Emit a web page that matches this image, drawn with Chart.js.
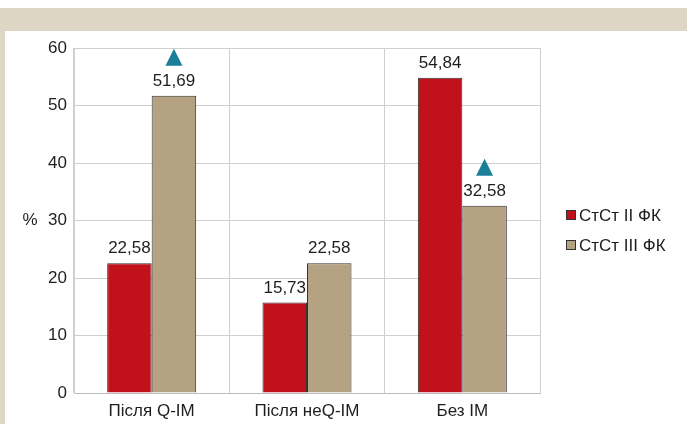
<!DOCTYPE html>
<html>
<head>
<meta charset="utf-8">
<script src="https://cdn.jsdelivr.net/npm/chart.js@4/dist/chart.umd.min.js"></script>
<style>
  html, body { margin: 0; padding: 0; background: #ffffff; }
  #wrap { position: relative; width: 687px; height: 424px; }
  canvas { display: block; }
</style>
</head>
<body>
<div id="wrap"><canvas id="c" width="687" height="424"></canvas></div>
<script>
const categories = ['Після Q-IM', 'Після неQ-IM', 'Без IM'];
const seriesNames = ['СтСт II ФК', 'СтСт III ФК'];
const seriesII = [22.58, 15.73, 54.84];
const seriesIII = [51.69, 22.58, 32.58];
const markedIII = [true, false, true];
const yTicks = [0, 10, 20, 30, 40, 50, 60];

const FONT = '"Liberation Sans", Arial, Helvetica, sans-serif';
const FS = 17;
const colors = ['#c1121c', '#b5a283'];

const decorPlugin = {
  id: 'decor',
  beforeDraw(chart) {
    const ctx = chart.ctx;
    ctx.save();
    ctx.fillStyle = '#ffffff';
    ctx.fillRect(0, 0, chart.width, chart.height);
    ctx.fillStyle = '#ded6c4';
    ctx.fillRect(0, 8, chart.width, 23);
    ctx.fillRect(0, 31, 5, chart.height - 31);
    ctx.restore();
  },
  afterDatasetsDraw(chart) {
    const ctx = chart.ctx;
    ctx.save();
    ctx.font = FS + 'px ' + FONT;
    ctx.textAlign = 'center';
    ctx.textBaseline = 'alphabetic';
    chart.data.datasets.forEach((ds, di) => {
      const meta = chart.getDatasetMeta(di);
      meta.data.forEach((bar, i) => {
        const label = ds.data[i].toFixed(2).replace('.', ',');
        ctx.fillStyle = '#1e1e1e';
        ctx.fillText(label, bar.x, bar.y - 10);
        if (di === 1 && markedIII[i]) {
          const cx = bar.x, by = bar.y - 30;
          ctx.fillStyle = '#1b7f97';
          ctx.beginPath();
          ctx.moveTo(cx - 8.5, by);
          ctx.lineTo(cx + 8.5, by);
          ctx.lineTo(cx, by - 17);
          ctx.closePath();
          ctx.fill();
        }
      });
    });
    // y-axis title
    const ys = chart.scales.y;
    ctx.fillStyle = '#1e1e1e';
    ctx.textBaseline = 'middle';
    ctx.fillText('%', 30, (ys.top + ys.bottom) / 2);
    // legend
    ctx.textAlign = 'left';
    seriesNames.forEach((name, k) => {
      const y = 215 + k * 30;
      ctx.fillStyle = colors[k];
      ctx.fillRect(566.5, y - 4.5, 9, 9);
      ctx.strokeStyle = '#333333';
      ctx.lineWidth = 1;
      ctx.strokeRect(566.5, y - 4.5, 9, 9);
      ctx.fillStyle = '#1e1e1e';
      ctx.fillText(name, 579, y + 1);
    });
    ctx.restore();
  }
};

new Chart(document.getElementById('c'), {
  type: 'bar',
  data: {
    labels: categories,
    datasets: [
      { label: seriesNames[0], data: seriesII, backgroundColor: colors[0], borderColor: '#333333', borderWidth: 1 },
      { label: seriesNames[1], data: seriesIII, backgroundColor: colors[1], borderColor: '#333333', borderWidth: 1 }
    ]
  },
  options: {
    responsive: false,
    animation: false,
    devicePixelRatio: 1,
    categoryPercentage: 0.573,
    barPercentage: 1.0,
    layout: { padding: { left: 0, top: 48, right: 147, bottom: 0 } },
    plugins: { legend: { display: false }, tooltip: { enabled: false } },
    scales: {
      x: {
        offset: true,
        grid: { display: true, offset: true, color: '#cfcfcf', drawTicks: false },
        border: { color: '#bdbdbd' },
        ticks: { color: '#1e1e1e', font: { family: FONT, size: FS }, padding: 8, maxRotation: 0 },
        afterFit(s) { s.height = 31; }
      },
      y: {
        min: 0, max: 60,
        afterBuildTicks(s) { s.ticks = yTicks.map(v => ({ value: v })); },
        grid: { color: '#cfcfcf', drawTicks: false },
        border: { color: '#cfcfcf' },
        ticks: { color: '#1e1e1e', font: { family: FONT, size: FS }, padding: 7 },
        afterFit(s) { s.width = 74; }
      }
    }
  },
  plugins: [decorPlugin]
});
</script>
</body>
</html>
